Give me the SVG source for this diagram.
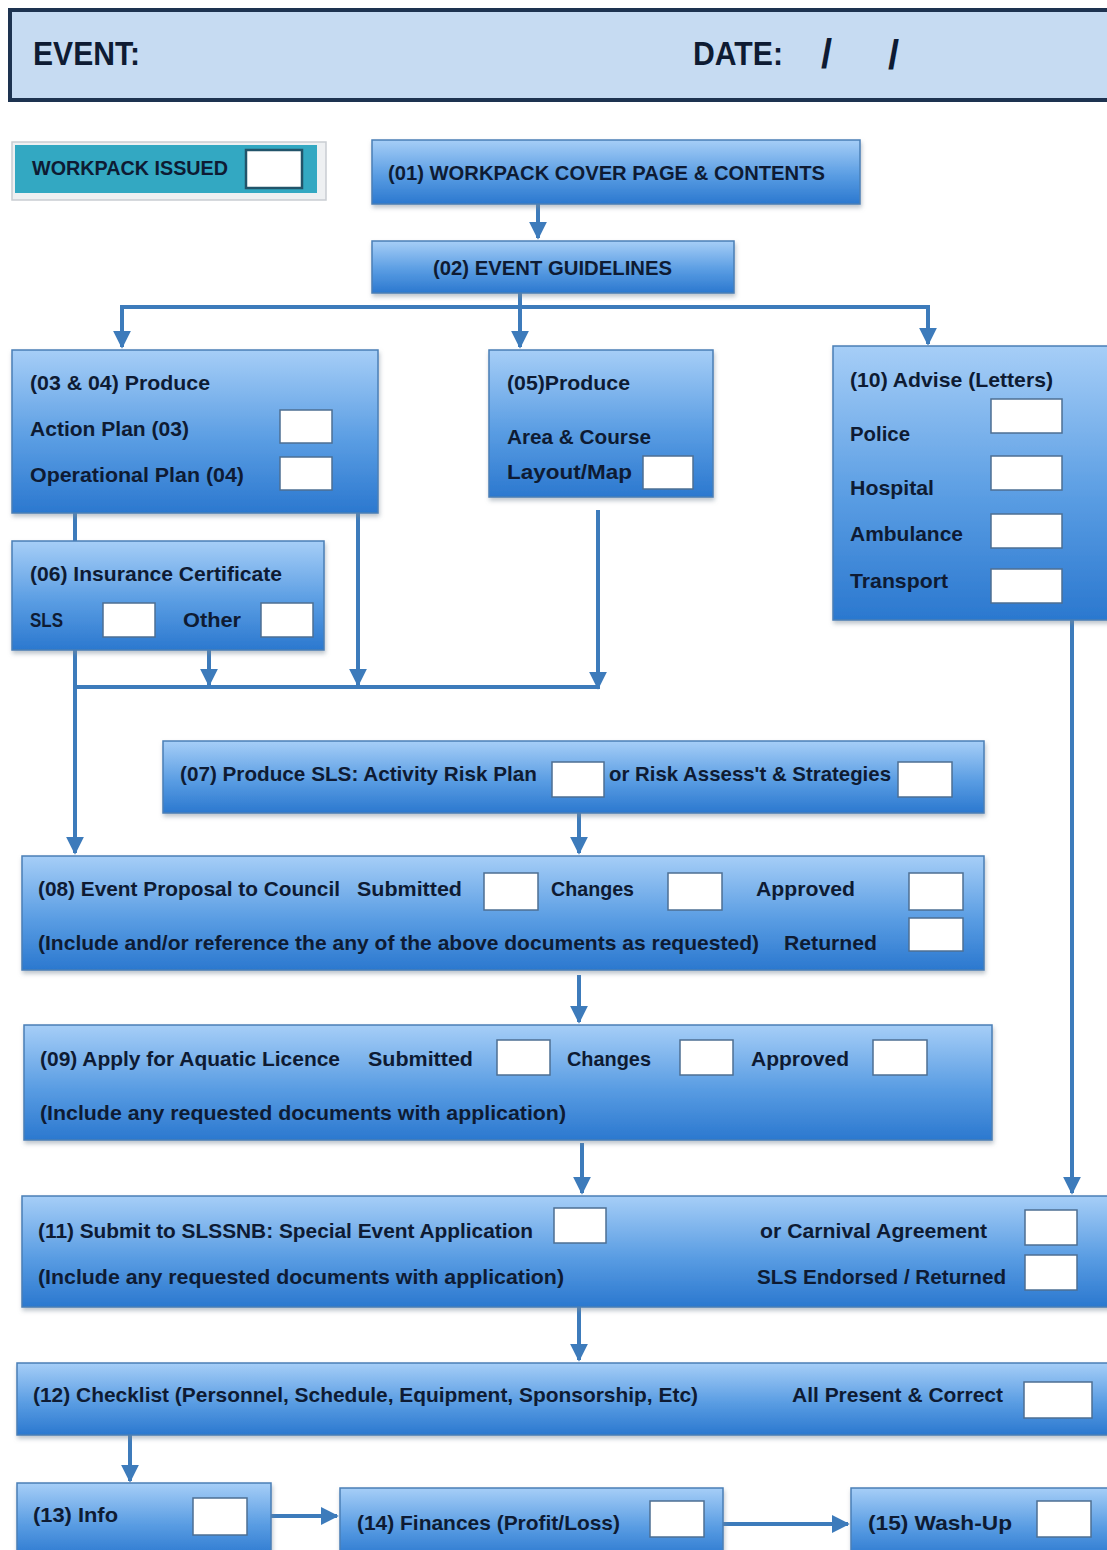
<svg xmlns="http://www.w3.org/2000/svg" width="1107" height="1550" viewBox="0 0 1107 1550">
<defs>
<linearGradient id="g" x1="0" y1="0" x2="0" y2="1">
<stop offset="0" stop-color="#a6cef7"/>
<stop offset="0.55" stop-color="#5a9de3"/>
<stop offset="1" stop-color="#2b78cf"/>
</linearGradient>
<marker id="ah" viewBox="0 0 10 10" refX="9" refY="5" markerWidth="4.5" markerHeight="4.5" orient="auto" markerUnits="strokeWidth">
<path d="M0,0 L10,5 L0,10 z" fill="#3d7bbb"/>
</marker>
<filter id="sh" x="-5%" y="-5%" width="110%" height="120%">
<feDropShadow dx="1" dy="3" stdDeviation="2" flood-color="#7a8a9a" flood-opacity="0.5"/>
</filter>
</defs>
<style>
.n{fill:url(#g);stroke:#4a7fb6;stroke-width:1.5;filter:url(#sh)}
.cb{fill:#ffffff;stroke:#4d6f93;stroke-width:1.5}
.t{font-family:"Liberation Sans",Arial,sans-serif;font-weight:bold;font-size:21px;fill:#0e1b33}
.h{font-size:34px}
.s{font-size:40px}
.m{font-size:20px}
.c{fill:none;stroke:#3d7bbb;stroke-width:4}
.ca{fill:none;stroke:#3d7bbb;stroke-width:4;marker-end:url(#ah)}
</style>
<rect width="1107" height="1550" fill="#ffffff"/>

<g id="header">
<rect x="10" y="10" width="1100" height="90" fill="#c6dbf2" stroke="#1d3350" stroke-width="4"/>
<text class="t h" x="33" y="65" textLength="107" lengthAdjust="spacingAndGlyphs">EVENT:</text>
<text class="t h" x="693" y="65" textLength="90" lengthAdjust="spacingAndGlyphs">DATE:</text>
<text class="t s" x="821" y="68">/</text>
<text class="t s" x="888" y="69">/</text>
</g>

<g id="workpack-issued">
<rect x="12" y="142" width="314" height="58" fill="#eef0f2" stroke="#c9cdd2" stroke-width="1.5"/>
<rect x="15" y="145" width="302" height="48" fill="#33a8c2"/>
<text class="t m" x="32" y="175" textLength="196" lengthAdjust="spacingAndGlyphs">WORKPACK ISSUED</text>
<rect x="246" y="150" width="56" height="38" fill="#ffffff" stroke="#22546a" stroke-width="2.5"/>
</g>

<g id="connectors">
<path class="ca" d="M538,204 V238"/>
<path class="c" d="M520,293 V307 M120,307 H930"/>
<path class="ca" d="M122,305 V347"/>
<path class="ca" d="M520,305 V347"/>
<path class="ca" d="M928,305 V344"/>
<path class="c" d="M75,513 V541"/>
<path class="ca" d="M75,650 V853"/>
<path class="c" d="M73,687 H600"/>
<path class="ca" d="M209,650 V685"/>
<path class="ca" d="M358,513 V685"/>
<path class="ca" d="M598,510 V688"/>
<path class="ca" d="M579,813 V853"/>
<path class="ca" d="M579,975 V1022"/>
<path class="ca" d="M582,1143 V1193"/>
<path class="ca" d="M1072,620 V1193"/>
<path class="ca" d="M579,1307 V1360"/>
<path class="ca" d="M130,1435 V1481"/>
<path class="ca" d="M271,1516 H337"/>
<path class="ca" d="M723,1524 H848"/>
</g>

<g id="n01">
<rect class="n" x="372" y="140" width="488" height="64"/>
<text class="t m" x="388" y="180" textLength="437" lengthAdjust="spacingAndGlyphs">(01) WORKPACK COVER PAGE &amp; CONTENTS</text>
</g>

<g id="n02">
<rect class="n" x="372" y="241" width="362" height="52"/>
<text class="t m" x="433" y="275" textLength="239" lengthAdjust="spacingAndGlyphs">(02) EVENT GUIDELINES</text>
</g>

<g id="n0304">
<rect class="n" x="12" y="350" width="366" height="163"/>
<text class="t" x="30" y="390" textLength="180" lengthAdjust="spacingAndGlyphs">(03 &amp; 04) Produce</text>
<text class="t" x="30" y="436" textLength="159" lengthAdjust="spacingAndGlyphs">Action Plan (03)</text>
<text class="t" x="30" y="482" textLength="214" lengthAdjust="spacingAndGlyphs">Operational Plan (04)</text>
<rect class="cb" x="280" y="410" width="52" height="33"/>
<rect class="cb" x="280" y="457" width="52" height="33"/>
</g>

<g id="n05">
<rect class="n" x="489" y="350" width="224" height="147"/>
<text class="t" x="507" y="390" textLength="123" lengthAdjust="spacingAndGlyphs">(05)Produce</text>
<text class="t" x="507" y="444" textLength="144" lengthAdjust="spacingAndGlyphs">Area &amp; Course</text>
<text class="t" x="507" y="479" textLength="125" lengthAdjust="spacingAndGlyphs">Layout/Map</text>
<rect class="cb" x="643" y="456" width="50" height="33"/>
</g>

<g id="n10">
<rect class="n" x="833" y="346" width="280" height="274"/>
<text class="t" x="850" y="387" textLength="203" lengthAdjust="spacingAndGlyphs">(10) Advise (Letters)</text>
<text class="t" x="850" y="441" textLength="60" lengthAdjust="spacingAndGlyphs">Police</text>
<text class="t" x="850" y="495" textLength="84" lengthAdjust="spacingAndGlyphs">Hospital</text>
<text class="t" x="850" y="541" textLength="113" lengthAdjust="spacingAndGlyphs">Ambulance</text>
<text class="t" x="850" y="588" textLength="98" lengthAdjust="spacingAndGlyphs">Transport</text>
<rect class="cb" x="991" y="399" width="71" height="34"/>
<rect class="cb" x="991" y="456" width="71" height="34"/>
<rect class="cb" x="991" y="514" width="71" height="34"/>
<rect class="cb" x="991" y="569" width="71" height="34"/>
</g>

<g id="n06">
<rect class="n" x="12" y="541" width="312" height="109"/>
<text class="t" x="30" y="581" textLength="252" lengthAdjust="spacingAndGlyphs">(06) Insurance Certificate</text>
<text class="t" x="30" y="627" textLength="33" lengthAdjust="spacingAndGlyphs">SLS</text>
<text class="t" x="183" y="627" textLength="58" lengthAdjust="spacingAndGlyphs">Other</text>
<rect class="cb" x="103" y="603" width="52" height="34"/>
<rect class="cb" x="261" y="603" width="52" height="34"/>
</g>

<g id="n07">
<rect class="n" x="163" y="741" width="821" height="72"/>
<text class="t" x="180" y="781" textLength="357" lengthAdjust="spacingAndGlyphs">(07) Produce SLS:  Activity Risk Plan</text>
<rect class="cb" x="552" y="762" width="52" height="35"/>
<text class="t" x="609" y="781" textLength="282" lengthAdjust="spacingAndGlyphs">or Risk Assess't &amp; Strategies</text>
<rect class="cb" x="898" y="762" width="54" height="35"/>
</g>

<g id="n08">
<rect class="n" x="22" y="856" width="962" height="114"/>
<text class="t" x="38" y="896" textLength="302" lengthAdjust="spacingAndGlyphs">(08) Event Proposal to Council</text>
<text class="t" x="357" y="896" textLength="105" lengthAdjust="spacingAndGlyphs">Submitted</text>
<rect class="cb" x="484" y="873" width="54" height="37"/>
<text class="t" x="551" y="896" textLength="83" lengthAdjust="spacingAndGlyphs">Changes</text>
<rect class="cb" x="668" y="873" width="54" height="37"/>
<text class="t" x="756" y="896" textLength="99" lengthAdjust="spacingAndGlyphs">Approved</text>
<rect class="cb" x="909" y="873" width="54" height="37"/>
<text class="t" x="38" y="950" textLength="721" lengthAdjust="spacingAndGlyphs">(Include and/or reference the any of the above documents as requested)</text>
<text class="t" x="784" y="950" textLength="93" lengthAdjust="spacingAndGlyphs">Returned</text>
<rect class="cb" x="909" y="918" width="54" height="33"/>
</g>

<g id="n09">
<rect class="n" x="24" y="1025" width="968" height="115"/>
<text class="t" x="40" y="1066" textLength="300" lengthAdjust="spacingAndGlyphs">(09) Apply for Aquatic Licence</text>
<text class="t" x="368" y="1066" textLength="105" lengthAdjust="spacingAndGlyphs">Submitted</text>
<rect class="cb" x="497" y="1040" width="53" height="35"/>
<text class="t" x="567" y="1066" textLength="84" lengthAdjust="spacingAndGlyphs">Changes</text>
<rect class="cb" x="680" y="1040" width="53" height="35"/>
<text class="t" x="751" y="1066" textLength="98" lengthAdjust="spacingAndGlyphs">Approved</text>
<rect class="cb" x="873" y="1040" width="54" height="35"/>
<text class="t" x="40" y="1120" textLength="526" lengthAdjust="spacingAndGlyphs">(Include any requested documents with application)</text>
</g>

<g id="n11">
<rect class="n" x="22" y="1196" width="1090" height="111"/>
<text class="t" x="38" y="1238" textLength="495" lengthAdjust="spacingAndGlyphs">(11) Submit to SLSSNB:  Special Event Application</text>
<rect class="cb" x="554" y="1208" width="52" height="35"/>
<text class="t" x="760" y="1238" textLength="227" lengthAdjust="spacingAndGlyphs">or Carnival Agreement</text>
<rect class="cb" x="1025" y="1210" width="52" height="35"/>
<text class="t" x="38" y="1284" textLength="526" lengthAdjust="spacingAndGlyphs">(Include any requested documents with application)</text>
<text class="t" x="757" y="1284" textLength="249" lengthAdjust="spacingAndGlyphs">SLS Endorsed / Returned</text>
<rect class="cb" x="1025" y="1255" width="52" height="35"/>
</g>

<g id="n12">
<rect class="n" x="17" y="1363" width="1095" height="72"/>
<text class="t" x="33" y="1402" textLength="665" lengthAdjust="spacingAndGlyphs">(12) Checklist  (Personnel, Schedule, Equipment, Sponsorship, Etc)</text>
<text class="t" x="792" y="1402" textLength="211" lengthAdjust="spacingAndGlyphs">All Present &amp; Correct</text>
<rect class="cb" x="1024" y="1382" width="68" height="36"/>
</g>

<g id="n13">
<rect class="n" x="17" y="1483" width="254" height="75"/>
<text class="t" x="33" y="1522" textLength="85" lengthAdjust="spacingAndGlyphs">(13) Info</text>
<rect class="cb" x="193" y="1498" width="54" height="37"/>
</g>

<g id="n14">
<rect class="n" x="340" y="1488" width="383" height="70"/>
<text class="t" x="357" y="1530" textLength="263" lengthAdjust="spacingAndGlyphs">(14) Finances (Profit/Loss)</text>
<rect class="cb" x="650" y="1501" width="54" height="36"/>
</g>

<g id="n15">
<rect class="n" x="851" y="1488" width="261" height="70"/>
<text class="t" x="868" y="1530" textLength="144" lengthAdjust="spacingAndGlyphs">(15)  Wash-Up</text>
<rect class="cb" x="1037" y="1501" width="54" height="36"/>
</g>
</svg>
